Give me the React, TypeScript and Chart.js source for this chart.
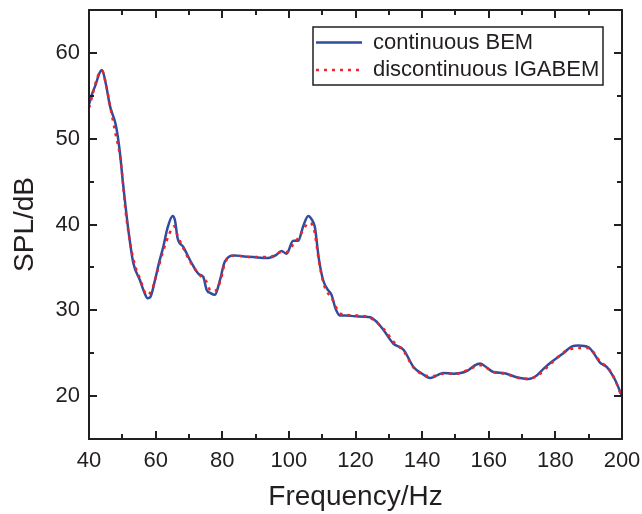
import React, { useEffect, useRef } from "react";
import { Chart, registerables } from "chart.js";

Chart.register(...registerables);

// ---- data ----
const seriesNames = ["continuous BEM", "discontinuous IGABEM"];

const bemFreq = [
  40, 41, 42, 43, 43.9, 45, 46.3, 48.1, 49.3, 50.1, 51, 51.8, 53.3, 55.3, 56.5, 57.6, 58.5, 59.8, 61, 62.3,
  63.5, 65.1, 65.8, 66.6, 68.3, 70.8, 73, 74.3, 75.3, 76.5, 77.8, 79.3, 80.8, 83.8, 86, 89.3, 93.8, 96, 97.8,
  99.3, 101.3, 102.8, 104.3, 105.8, 107, 107.8, 109, 110.3, 111.5, 112.8, 114, 115.3, 117, 120, 124.4, 126.5,
  128.4, 131.4, 134.4, 137.4, 140, 142.4, 146.4, 149.4, 153.4, 155.5, 157.4, 159.5, 161.4, 164.4, 168.4,
  171.9, 174.4, 176.5, 178.9, 182.4, 185, 186.9, 189.9, 191.5, 193.4, 195.4, 197.9, 200,
];
const bemSpl = [
  54.0, 55.3, 56.3, 57.5, 58.0, 56.5, 53.8, 51.5, 48.3, 45.2, 42.0, 39.4, 35.5, 33.5, 32.2, 31.4, 31.6, 33.5, 35.5, 37.4,
  39.5, 41.0, 40.5, 38.4, 37.4, 35.5, 34.2, 33.9, 32.4, 32.0, 31.8, 33.5, 35.7, 36.4, 36.3, 36.2, 36.1, 36.4, 36.9,
  36.6, 38.1, 38.1, 39.8, 41.0, 40.5, 39.7, 36.0, 33.5, 32.5, 31.8, 30.2, 29.4, 29.4, 29.3, 29.2, 28.6,
  27.7, 26.1, 25.4, 23.4, 22.6, 22.1, 22.7, 22.6, 22.9, 23.5, 23.8, 23.3, 22.8, 22.7, 22.2,
  22.0, 22.4, 23.2, 24.0, 25.0, 25.8, 25.9, 25.7, 25.0, 23.9, 23.4, 21.9, 20.0,
];

const igaFreq = [
  40, 41, 42, 43, 44, 45, 46.5, 48, 49.5, 51, 52.5, 54, 55.5, 56.5, 57.5, 59, 60.5, 62.5, 64, 65.5, 66.5, 68,
  70.5, 73, 75.3, 76.5, 78, 79.5, 80.8, 83.8, 89, 94, 98, 99.5, 101.5, 103, 104.5, 106, 107.5, 109, 110.5, 113,
  115.5, 120, 124.5, 128.5, 131.5, 134.5, 137.5, 142.5, 146.5, 150, 154, 157.5, 161.5, 165, 169, 172, 175, 179,
  182.5, 186.5, 190, 193.5, 196, 198, 200,
];
const igaSpl = [
  53.6, 55.0, 56.5, 57.6, 57.9, 56.5, 53.5, 50.5, 47.5, 41.5, 37.5, 35.0, 33.5, 32.3, 31.8, 32.5, 34.5, 37.2, 38.8, 39.8, 38.8, 37.5,
  35.6, 34.2, 33.3, 32.3, 32.3, 33.5, 35.5, 36.4, 36.2, 36.2, 36.8, 36.8, 37.8, 38.5, 39.5, 40.2, 39.5, 35.8, 33.0, 31.3,
  29.6, 29.4, 29.1, 27.8, 26.3, 25.2, 23.3, 22.3, 22.6, 22.6, 23.1, 23.6, 22.8, 22.6, 22.1, 22.0, 22.5, 23.9,
  25.1, 25.6, 25.6, 24.0, 23.2, 21.8, 19.8,
];

const xTicks = [40, 60, 80, 100, 120, 140, 160, 180, 200];
const xMinorTicks = [50, 70, 90, 110, 130, 150, 170, 190];
const yTicks = [20, 30, 40, 50, 60];
const yMinorTicks = [25, 35, 45, 55];

const xTitle = "Frequency/Hz";
const yTitle = "SPL/dB";

// ---- styles ----
const INK = "#231f20";
const BLUE = "#2f4d9e";
const RED = "#ee2228";
const FONT = "'Liberation Sans', Arial, Helvetica, sans-serif";

const framePlugin = {
  id: "frameAndLegend",
  afterDatasetsDraw(chart: any) {
    const { ctx, chartArea: a, scales } = chart;
    const x = scales.x;
    const y = scales.y;
    ctx.save();
    ctx.strokeStyle = INK;
    ctx.lineWidth = 2;
    ctx.lineCap = "butt";
    ctx.beginPath();
    const xt = (vals: number[], len: number) => {
      for (const v of vals) {
        const px = Math.round(x.getPixelForValue(v));
        ctx.moveTo(px, a.bottom);
        ctx.lineTo(px, a.bottom - len);
        ctx.moveTo(px, a.top);
        ctx.lineTo(px, a.top + len);
      }
    };
    const yt = (vals: number[], len: number) => {
      for (const v of vals) {
        const py = Math.round(y.getPixelForValue(v));
        ctx.moveTo(a.left, py);
        ctx.lineTo(a.left + len, py);
        ctx.moveTo(a.right, py);
        ctx.lineTo(a.right - len, py);
      }
    };
    xt(xTicks, 8);
    xt(xMinorTicks, 5);
    yt(yTicks, 8);
    yt(yMinorTicks, 5);
    ctx.stroke();
    ctx.strokeRect(a.left, a.top, a.right - a.left, a.bottom - a.top);

    // legend
    const bw = 290;
    const bh = 58;
    const bx = a.right - 19 - bw;
    const by = a.top + 17;
    ctx.fillStyle = "#ffffff";
    ctx.fillRect(bx, by, bw, bh);
    ctx.lineWidth = 1.5;
    ctx.strokeStyle = INK;
    ctx.strokeRect(bx, by, bw, bh);
    const rows = [
      { label: seriesNames[0], color: BLUE, dash: [] as number[] },
      { label: seriesNames[1], color: RED, dash: [3, 5] },
    ];
    rows.forEach((r, i) => {
      const ry = by + 15.5 + i * 27.5;
      ctx.beginPath();
      ctx.setLineDash(r.dash);
      ctx.strokeStyle = r.color;
      ctx.lineWidth = 2.5;
      ctx.moveTo(bx + 3, ry);
      ctx.lineTo(bx + 49, ry);
      ctx.stroke();
      ctx.setLineDash([]);
      ctx.fillStyle = INK;
      ctx.font = `22px ${FONT}`;
      ctx.textAlign = "left";
      ctx.textBaseline = "middle";
      ctx.fillText(r.label, bx + 60, ry);
    });
    ctx.restore();
  },
};

export default function App() {
  const ref = useRef<HTMLCanvasElement | null>(null);

  useEffect(() => {
    if (!ref.current) return;
    const bem = bemFreq.map((f, i) => ({ x: f, y: bemSpl[i] }));
    const iga = igaFreq.map((f, i) => ({ x: f, y: igaSpl[i] }));
    const chart = new Chart(ref.current, {
      type: "line",
      data: {
        datasets: [
          {
            label: seriesNames[1],
            data: iga,
            borderColor: RED,
            borderWidth: 2.5,
            borderDash: [3, 5],
            pointRadius: 0,
            cubicInterpolationMode: "monotone",
            fill: false,
          },
          {
            label: seriesNames[0],
            data: bem,
            borderColor: BLUE,
            borderWidth: 2.5,
            pointRadius: 0,
            cubicInterpolationMode: "monotone",
            fill: false,
          },
        ],
      },
      options: {
        responsive: false,
        animation: false,
        devicePixelRatio: 1,
        layout: { padding: { top: 10, right: 20, left: 0, bottom: 0 } },
        plugins: { legend: { display: false }, tooltip: { enabled: false } },
        scales: {
          x: {
            type: "linear",
            min: 40,
            max: 200,
            grid: { display: false, drawTicks: false },
            border: { display: false },
            afterBuildTicks: (s: any) => {
              s.ticks = xTicks.map((v) => ({ value: v }));
            },
            afterFit: (s: any) => {
              s.height = 75;
              s.paddingLeft = 0;
              s.paddingRight = 0;
            },
            ticks: {
              color: INK,
              padding: 9,
              maxRotation: 0,
              font: { size: 22, family: FONT },
            },
            title: {
              display: true,
              text: xTitle,
              color: INK,
              padding: 0,
              font: { size: 28, family: FONT },
            },
          },
          y: {
            type: "linear",
            min: 15,
            max: 65,
            grid: { display: false, drawTicks: false },
            border: { display: false },
            afterBuildTicks: (s: any) => {
              s.ticks = yTicks.map((v) => ({ value: v }));
            },
            afterFit: (s: any) => {
              s.width = 89;
              s.paddingTop = 0;
              s.paddingBottom = 0;
            },
            ticks: {
              color: INK,
              padding: 9,
              font: { size: 22, family: FONT },
            },
            title: {
              display: true,
              text: yTitle,
              color: INK,
              padding: { top: 8, bottom: 0 },
              font: { size: 28, family: FONT },
            },
          },
        },
      },
      plugins: [framePlugin],
    } as any);
    return () => chart.destroy();
  }, []);

  return (
    <div style={{ position: "absolute", left: 0, top: 0, width: 642, height: 514, background: "#fff" }}>
      <canvas ref={ref} width={642} height={514} style={{ display: "block" }} />
    </div>
  );
}
